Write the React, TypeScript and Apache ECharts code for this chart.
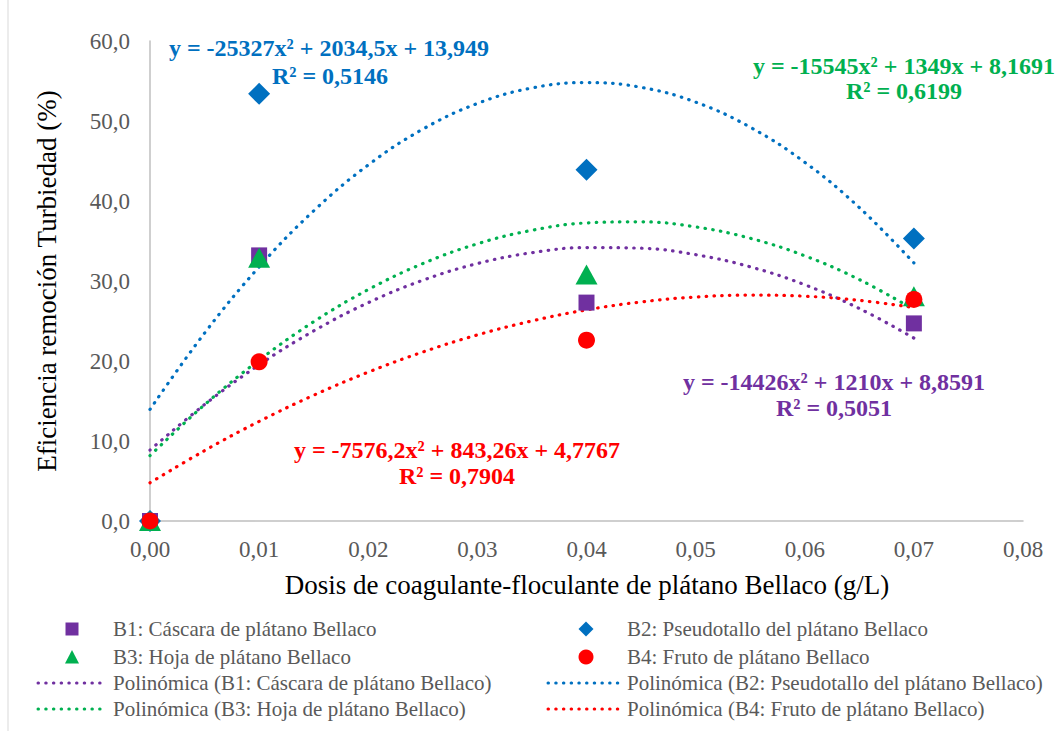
import React, { useEffect, useRef } from "react";
import * as echarts from "echarts";

const doses = [0, 0.01, 0.04, 0.07];
const b1Values = [0, 33.2, 27.3, 24.7];
const b2Values = [0, 53.4, 43.9, 35.3];
const b3Values = [0, 32.9, 30.8, 28.1];
const b4Values = [0, 19.9, 22.6, 27.7];

// trendline values read at x = 0, 0.005, ..., 0.07 (from displayed equations)
const trendX = [0, 0.005, 0.01, 0.015, 0.02, 0.025, 0.03, 0.035, 0.04, 0.045, 0.05, 0.055, 0.06, 0.065, 0.07];
const b1Trend = [8.86, 14.55, 19.52, 23.76, 27.29, 30.09, 32.18, 33.54, 34.18, 34.10, 33.29, 31.77, 29.53, 26.56, 22.87];
const b2Trend = [13.95, 23.49, 31.76, 38.77, 44.51, 48.98, 52.19, 54.13, 54.81, 54.21, 52.36, 49.23, 44.84, 39.18, 32.26];
const b3Trend = [8.17, 14.53, 20.10, 24.91, 28.93, 32.18, 34.65, 36.34, 37.26, 37.40, 36.76, 35.34, 33.15, 30.18, 26.43];
const b4Trend = [4.78, 8.80, 12.45, 15.72, 18.61, 21.12, 23.26, 25.01, 26.39, 27.38, 28.00, 28.24, 28.10, 27.58, 26.68];

const seriesNames = [
  "B1: Cáscara de plátano Bellaco",
  "B2: Pseudotallo del plátano Bellaco",
  "B3: Hoja de plátano Bellaco",
  "B4: Fruto de plátano Bellaco",
];
const trendNames = seriesNames.map((n) => `Polinómica (${n})`);
const colors = ["#7030A0", "#0070C0", "#00B050", "#FF0000"];

const equations = [
  "y = -14426x² + 1210x + 8,8591",
  "y = -25327x² + 2034,5x + 13,949",
  "y = -15545x² + 1349x + 8,1691",
  "y = -7576,2x² + 843,26x + 4,7767",
];
const r2Labels = ["R² = 0,5051", "R² = 0,5146", "R² = 0,6199", "R² = 0,7904"];

const FONT = "serif";

export default function App() {
  const ref = useRef<HTMLDivElement>(null);
  useEffect(() => {
    if (!ref.current) return;
    const chart = echarts.init(ref.current, null, { renderer: "svg" });
    const pts = (vals: number[]) => doses.map((d, i) => [d, vals[i]]);
    const tr = (vals: number[]) => trendX.map((d, i) => [d, vals[i]]);
    const trends = [b1Trend, b2Trend, b3Trend, b4Trend];
    const values = [b1Values, b2Values, b3Values, b4Values];
    const symbols = ["rect", "diamond", "triangle", "circle"];
    const sizes: any[] = [16, [22, 22], [22, 20], 17];

    const trendSeries = trends.map((t, i) => ({
      name: trendNames[i],
      type: "line",
      data: tr(t),
      smooth: 0.4,
      showSymbol: false,
      symbol: "none",
      silent: true,
      z: 2,
      lineStyle: { color: colors[i], width: 3.2, type: [0.5, 7.3], cap: "round" },
    }));
    const scatterSeries = [0, 1, 2, 3].map((i) => ({
      name: seriesNames[i],
      type: "scatter",
      data: pts(values[i]),
      symbol: symbols[i],
      symbolSize: sizes[i],
      z: 3 + i,
      itemStyle: { color: colors[i], opacity: 1 },
    }));

    const eqText = (text: string, x: number, y: number, color: string) => ({
      type: "text",
      x,
      y,
      style: {
        text,
        fill: color,
        fontFamily: FONT,
        fontSize: 24,
        fontWeight: "bold",
        textAlign: "center",
        textVerticalAlign: "middle",
      },
      z: 10,
    });

    const legendRows = [629, 657, 683, 709];
    const legendCols = [
      { mx: 72, lx1: 38, lx2: 106, tx: 113 },
      { mx: 586, lx1: 548, lx2: 619, tx: 627 },
    ];
    const legendEls: any[] = [];
    const markerEl = (i: number, cx: number, cy: number) => {
      const c = colors[i];
      if (i === 0) return { type: "rect", shape: { x: cx - 6.5, y: cy - 6.5, width: 13, height: 13 }, style: { fill: c } };
      if (i === 1)
        return { type: "polygon", shape: { points: [[cx, cy - 7.5], [cx + 7.5, cy], [cx, cy + 7.5], [cx - 7.5, cy]] }, style: { fill: c } };
      if (i === 2)
        return { type: "polygon", shape: { points: [[cx, cy - 7], [cx + 7, cy + 6.5], [cx - 7, cy + 6.5]] }, style: { fill: c } };
      return { type: "circle", shape: { cx, cy, r: 7.5 }, style: { fill: c } };
    };
    const legendItems = [
      { kind: "m", s: 0, col: 0, row: 0 },
      { kind: "m", s: 1, col: 1, row: 0 },
      { kind: "m", s: 2, col: 0, row: 1 },
      { kind: "m", s: 3, col: 1, row: 1 },
      { kind: "l", s: 0, col: 0, row: 2 },
      { kind: "l", s: 1, col: 1, row: 2 },
      { kind: "l", s: 2, col: 0, row: 3 },
      { kind: "l", s: 3, col: 1, row: 3 },
    ];
    legendItems.forEach((it) => {
      const c = legendCols[it.col];
      const y = legendRows[it.row];
      if (it.kind === "m") {
        legendEls.push(markerEl(it.s, c.mx, y));
      } else {
        legendEls.push({
          type: "line",
          shape: { x1: c.lx1, y1: y, x2: c.lx2, y2: y },
          style: { stroke: colors[it.s], lineWidth: 3, lineDash: [0.5, 7.2], lineCap: "round" },
        });
      }
      legendEls.push({
        type: "text",
        x: c.tx,
        y,
        style: {
          text: it.kind === "m" ? seriesNames[it.s] : trendNames[it.s],
          fill: "#595959",
          fontFamily: FONT,
          fontSize: 21,
          textVerticalAlign: "middle",
        },
      });
    });

    chart.setOption({
      animation: false,
      backgroundColor: "#ffffff",
      grid: { left: 150, top: 41, width: 873, height: 480, containLabel: false },
      xAxis: {
        type: "value",
        min: 0,
        max: 0.08,
        interval: 0.01,
        axisLine: { show: true, onZero: false, lineStyle: { color: "#BFBFBF", width: 1.5 } },
        axisTick: { show: false },
        splitLine: { show: false },
        axisLabel: {
          color: "#595959",
          fontSize: 23,
          fontFamily: FONT,
          margin: 17,
          formatter: (v: number) => v.toFixed(2).replace(".", ","),
        },
      },
      yAxis: {
        type: "value",
        min: 0,
        max: 60,
        interval: 10,
        axisLine: { show: true, onZero: false, lineStyle: { color: "#BFBFBF", width: 1.5 } },
        axisTick: { show: false },
        splitLine: { show: false },
        axisLabel: {
          color: "#595959",
          fontSize: 23,
          fontFamily: FONT,
          margin: 20,
          formatter: (v: number) => v.toFixed(1).replace(".", ","),
        },
      },
      series: [...trendSeries, ...scatterSeries],
      graphic: [
        { type: "line", shape: { x1: 8, y1: 0, x2: 8, y2: 731 }, style: { stroke: "#D9D9D9", lineWidth: 1 } },
        {
          type: "text",
          x: 47,
          y: 281,
          rotation: Math.PI / 2,
          style: {
            text: "Eficiencia remoción Turbiedad (%)",
            fill: "#000000",
            fontFamily: FONT,
            fontSize: 27,
            textAlign: "center",
            textVerticalAlign: "middle",
          },
        },
        {
          type: "text",
          x: 587,
          y: 585,
          style: {
            text: "Dosis de coagulante-floculante de plátano Bellaco (g/L)",
            fill: "#000000",
            fontFamily: FONT,
            fontSize: 27,
            textAlign: "center",
            textVerticalAlign: "middle",
          },
        },
        eqText(equations[1], 329, 48, colors[1]),
        eqText(r2Labels[1], 330, 76, colors[1]),
        eqText(equations[2], 904, 66, colors[2]),
        eqText(r2Labels[2], 904, 91, colors[2]),
        eqText(equations[0], 834, 382, colors[0]),
        eqText(r2Labels[0], 834, 408, colors[0]),
        eqText(equations[3], 457, 450, colors[3]),
        eqText(r2Labels[3], 457, 476, colors[3]),
        ...legendEls,
      ],
    });
    return () => chart.dispose();
  }, []);
  return (
    <div
      ref={ref}
      style={{ position: "absolute", left: 0, top: 0, width: 1056, height: 731, overflow: "hidden" }}
    />
  );
}
